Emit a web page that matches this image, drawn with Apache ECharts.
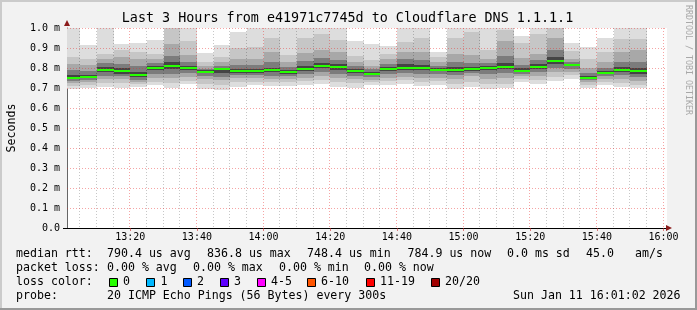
<!DOCTYPE html>
<html><head><meta charset="utf-8">
<script src="https://cdn.jsdelivr.net/npm/echarts@6/dist/echarts.min.js"></script>
<style>html,body{margin:0;padding:0;background:#f2f2f2}#c{width:697px;height:310px}</style>
</head><body><div id="c"></div>
<script>
// ---- data (ms) ----
const axisStart = '13:01:02';
const axisEnd = '16:01:02';
const slotEnds = ['13:05','13:10','13:15','13:20','13:25','13:30','13:35','13:40','13:45','13:50','13:55','14:00',
  '14:05','14:10','14:15','14:20','14:25','14:30','14:35','14:40','14:45','14:50','14:55','15:00',
  '15:05','15:10','15:15','15:20','15:25','15:30','15:35','15:40','15:45','15:50','15:55'];
const median = [0.749,0.754,0.791,0.785,0.764,0.801,0.811,0.800,0.781,0.795,0.786,0.786,
  0.791,0.781,0.796,0.811,0.806,0.786,0.771,0.796,0.801,0.801,0.792,0.791,
  0.795,0.801,0.805,0.786,0.806,0.835,0.816,0.750,0.776,0.789,0.784];
const hi1 = [1.06,0.915,1.05,0.92,0.926,0.941,1.1,1.03,0.874,0.916,0.978,1.03,
  1.04,1.04,1.1,1.1,1.04,0.935,0.92,0.908,1.05,1.05,0.881,1.04,
  1.1,1.0,1.1,0.961,1.1,1.15,0.925,0.905,0.95,1.05,1.05];
const hi2 = [0.856,0.847,0.872,0.89,0.88,0.872,1.0,0.935,0.83,0.855,0.898,0.906,
  0.948,0.865,0.95,0.97,0.94,0.86,0.84,0.87,0.932,0.948,0.855,0.948,
  0.98,0.89,0.99,0.925,0.97,1.02,0.886,0.845,0.88,0.945,0.945];
const hi3 = [0.822,0.814,0.845,0.856,0.847,0.847,0.92,0.864,0.808,0.83,0.847,0.847,
  0.881,0.83,0.875,0.89,0.88,0.83,0.812,0.845,0.88,0.88,0.83,0.87,
  0.865,0.845,0.935,0.85,0.87,0.95,0.845,0.80,0.83,0.88,0.89];
const hi4 = [0.79,0.785,0.825,0.82,0.81,0.825,0.86,0.83,0.795,0.812,0.815,0.815,
  0.83,0.805,0.835,0.85,0.84,0.81,0.795,0.82,0.845,0.84,0.81,0.83,
  0.825,0.825,0.86,0.815,0.84,0.89,0.83,0.775,0.80,0.83,0.83];
const hi5 = [0.765,0.765,0.805,0.80,0.78,0.812,0.83,0.812,0.788,0.80,0.797,0.797,
  0.80,0.79,0.808,0.825,0.818,0.797,0.78,0.805,0.82,0.815,0.80,0.805,
  0.805,0.81,0.825,0.798,0.82,0.855,0.822,0.76,0.785,0.805,0.80];
const lo5 = [0.745,0.748,0.778,0.772,0.755,0.79,0.795,0.79,0.773,0.775,0.777,0.777,
  0.78,0.772,0.785,0.798,0.79,0.777,0.765,0.787,0.792,0.79,0.785,0.782,
  0.787,0.79,0.795,0.778,0.795,0.82,0.808,0.745,0.77,0.78,0.772];
const lo4 = [0.735,0.738,0.762,0.76,0.742,0.77,0.77,0.775,0.76,0.757,0.765,0.765,
  0.762,0.76,0.768,0.78,0.77,0.762,0.755,0.77,0.775,0.772,0.77,0.765,
  0.775,0.77,0.775,0.768,0.78,0.80,0.795,0.738,0.758,0.765,0.755];
const lo3 = [0.725,0.728,0.745,0.745,0.73,0.748,0.748,0.755,0.745,0.74,0.748,0.748,
  0.745,0.745,0.75,0.76,0.75,0.745,0.742,0.752,0.755,0.752,0.752,0.745,
  0.76,0.745,0.75,0.758,0.76,0.778,0.782,0.728,0.745,0.745,0.735];
const lo2 = [0.712,0.715,0.725,0.725,0.718,0.73,0.725,0.735,0.72,0.715,0.728,0.73,
  0.728,0.728,0.735,0.74,0.73,0.725,0.728,0.733,0.738,0.732,0.735,0.718,
  0.73,0.718,0.72,0.745,0.74,0.755,0.765,0.715,0.73,0.725,0.715];
const lo1 = [0.693,0.702,0.703,0.70,0.705,0.714,0.702,0.719,0.697,0.692,0.705,0.714,
  0.71,0.708,0.717,0.722,0.705,0.702,0.714,0.714,0.719,0.71,0.714,0.697,
  0.707,0.693,0.698,0.73,0.722,0.734,0.747,0.70,0.714,0.705,0.698];
const yTickValues = [0,0.1,0.2,0.3,0.4,0.5,0.6,0.7,0.8,0.9,1.0];
const xTickLabels = ['13:20','13:40','14:00','14:20','14:40','15:00','15:20','15:40','16:00'];

// ---- helpers ----
function toMin(s){const p=s.split(':').map(Number);return (p[0]-13)*60+p[1]+(p[2]||0)/60;}
const xMin = toMin(axisStart), xMax = toMin(axisEnd);
const xTickValues = xTickLabels.map(toMin);
const bandColors = ['#dddddd','#c6c6c6','#a8a8a8','#7c7c7c','#444444'];
const smokeData = slotEnds.map((t,i)=>[toMin(t)-5,toMin(t),lo1[i],hi1[i],lo2[i],hi2[i],lo3[i],hi3[i],lo4[i],hi4[i],lo5[i],hi5[i]]);
const medData = slotEnds.map((t,i)=>[toMin(t)-5,toMin(t),median[i]]);
const vGrid = [];
for(let m=5;m<=180;m+=5){vGrid.push([m, m%20===0?1:0]);}
const hGrid = yTickValues.filter(v=>v>0).map(v=>[xMin,v]);
const MAJ = 'rgba(230,40,40,0.42)', MIN = 'rgba(0,0,0,0.22)';
const MONO = '"DejaVu Sans Mono", monospace';

function clip(r,cs){return echarts.graphic.clipRectByRect(r,{x:cs.x,y:cs.y,width:cs.width,height:cs.height});}

const chart = echarts.init(document.getElementById('c'),null,{renderer:'canvas'});
const gfx = [];
gfx.push({type:'rect',shape:{x:0,y:0,width:697,height:2},style:{fill:'#cbcbcb'},silent:true});
gfx.push({type:'rect',shape:{x:0,y:0,width:2,height:310},style:{fill:'#cbcbcb'},silent:true});
gfx.push({type:'rect',shape:{x:0,y:308,width:697,height:2},style:{fill:'#999999'},silent:true});
gfx.push({type:'rect',shape:{x:695,y:0,width:2,height:310},style:{fill:'#999999'},silent:true});
function txt(x,y,s,size,extra){
  const o={type:'text',x:x,y:y,silent:true,style:Object.assign({text:s,font:size+'px '+MONO,fill:'#000',
    textAlign:'left',textVerticalAlign:'middle',align:'left',verticalAlign:'middle'},extra||{})};
  gfx.push(o);return o;
}
txt(347.5,19,'Last 3 Hours from e41971c7745d to Cloudflare DNS 1.1.1.1',13.4,{textAlign:'center',align:'center'});
const rr = txt(688,5,'RRDTOOL / TOBI OETIKER',8.3,{fill:'#a8a8a8'});
rr.rotation = -Math.PI/2;
const L1=254,L2=268,L3=282,L4=296,F=11.6;
txt(16,L1,'median rtt:',F); txt(107,L1,'790.4 us avg',F); txt(207,L1,'836.8 us max',F);
txt(307,L1,'748.4 us min',F); txt(407.5,L1,'784.9 us now',F); txt(507,L1,'0.0 ms sd',F);
txt(586,L1,'45.0',F); txt(635,L1,'am/s',F);
txt(16,L2,'packet loss:',F); txt(107,L2,'0.00 % avg',F); txt(193,L2,'0.00 % max',F);
txt(279,L2,'0.00 % min',F); txt(364,L2,'0.00 % now',F);
txt(16,L3,'loss color:',F);
const lossItems = [['0','#26ff00',109,123],['1','#00b8ff',146,160.5],['2','#0059ff',183,197],['3','#5e00ff',220,234],
  ['4-5','#ff00ff',257,271],['6-10','#ff5500',307,321],['11-19','#ff0000',366,380],['20/20','#a10000',431,445]];
lossItems.forEach(it=>{
  gfx.push({type:'rect',silent:true,shape:{x:it[2]+0.5,y:278.5,width:8,height:8},style:{fill:it[1],stroke:'#000',lineWidth:1}});
  txt(it[3],L3,it[0],F);
});
txt(16,L4,'probe:',F); txt(107,L4,'20 ICMP Echo Pings (56 Bytes) every 300s',F); txt(513,L4,'Sun Jan 11 16:01:02 2026',F);
gfx.push({type:'polygon',silent:true,z:100,shape:{points:[[64,26],[70,26],[67,20]]},style:{fill:'#8b1a1a'}});
gfx.push({type:'polygon',silent:true,z:100,shape:{points:[[666,225],[666,231],[672,228]]},style:{fill:'#8b1a1a'}});
gfx.push({type:'line',silent:true,shape:{x1:63,y1:228.5,x2:67,y2:228.5},style:{stroke:'#000',lineWidth:1}});

const option = {
  animation:false,
  backgroundColor:'#f2f2f2',
  grid:{left:67,top:28,width:600,height:200,show:true,backgroundColor:'#ffffff',borderWidth:0,
    containLabel:false,outerBoundsMode:'none'},
  xAxis:{type:'value',min:xMin,max:xMax,
    axisLine:{show:true,lineStyle:{color:'#000',width:1}},
    axisTick:{show:true,customValues:xTickValues,length:3,inside:false,lineStyle:{color:'rgba(200,40,40,0.6)'}},
    axisLabel:{customValues:xTickValues,margin:4,fontSize:10,fontFamily:'DejaVu Sans Mono',color:'#000',
      formatter:v=>{const i=xTickValues.findIndex(t=>Math.abs(t-v)<1e-6);return i>=0?xTickLabels[i]:'';}},
    splitLine:{show:false}},
  yAxis:{type:'value',min:0,max:1,interval:0.1,
    name:'Seconds',nameLocation:'middle',nameRotate:90,nameGap:49,
    nameTextStyle:{fontFamily:'DejaVu Sans Mono',fontSize:11.6,color:'#000'},
    axisLine:{show:true,lineStyle:{color:'#666',width:1}},
    axisTick:{show:false},
    axisLabel:{margin:7,fontSize:10,fontFamily:'DejaVu Sans Mono',color:'#000',
      formatter:v=>v<1e-9?'0.0':v.toFixed(1)+' m'},
    splitLine:{show:false}},
  graphic:{elements:gfx},
  series:[
    {type:'custom',z:2,silent:true,data:smokeData,encode:{x:[0,1],y:[2,3]},
      renderItem:(params,api)=>{
        const cs=params.coordSys;const x0=api.value(0),x1=api.value(1);const ch=[];
        for(let b=0;b<5;b++){
          const lo=api.value(2+2*b),hi=api.value(3+2*b);
          const p0=api.coord([x0,hi]),p1=api.coord([x1,lo]);
          const l=Math.round(p0[0]),r=Math.round(p1[0]),t=Math.round(p0[1]),btm=Math.round(p1[1]);
          const sh=clip({x:l,y:t,width:r-l,height:btm-t},cs);
          if(sh) ch.push({type:'rect',shape:sh,style:{fill:bandColors[b]}});
        }
        return {type:'group',children:ch};
      }},
    {type:'custom',z:3,silent:true,data:vGrid,encode:{x:0},
      renderItem:(params,api)=>{
        const cs=params.coordSys;const p=api.coord([api.value(0),0]);const x=Math.round(p[0])-0.5;
        return {type:'line',shape:{x1:x,y1:cs.y,x2:x,y2:cs.y+cs.height},
          style:{stroke:api.value(1)?MAJ:MIN,lineWidth:1,lineDash:[1,2]}};
      }},
    {type:'custom',z:3,silent:true,data:hGrid,encode:{x:0,y:1},
      renderItem:(params,api)=>{
        const cs=params.coordSys;const p=api.coord([xMin,api.value(1)]);const y=Math.round(p[1])+0.5;
        return {type:'line',shape:{x1:cs.x,y1:y,x2:cs.x+cs.width,y2:y},
          style:{stroke:MAJ,lineWidth:1,lineDash:[1,2]}};
      }},
    {type:'custom',z:4,silent:true,data:medData,encode:{x:[0,1],y:2},
      renderItem:(params,api)=>{
        const cs=params.coordSys;const p0=api.coord([api.value(0),api.value(2)]),p1=api.coord([api.value(1),api.value(2)]);
        const l=Math.round(p0[0]),r=Math.round(p1[0]),y=Math.round(p0[1]);
        const sh=clip({x:l,y:y-1,width:r-l,height:2},cs);
        return sh?{type:'rect',shape:sh,style:{fill:'#26ff00'}}:null;
      }}
  ]
};
chart.setOption(option);
</script>
</body></html>
